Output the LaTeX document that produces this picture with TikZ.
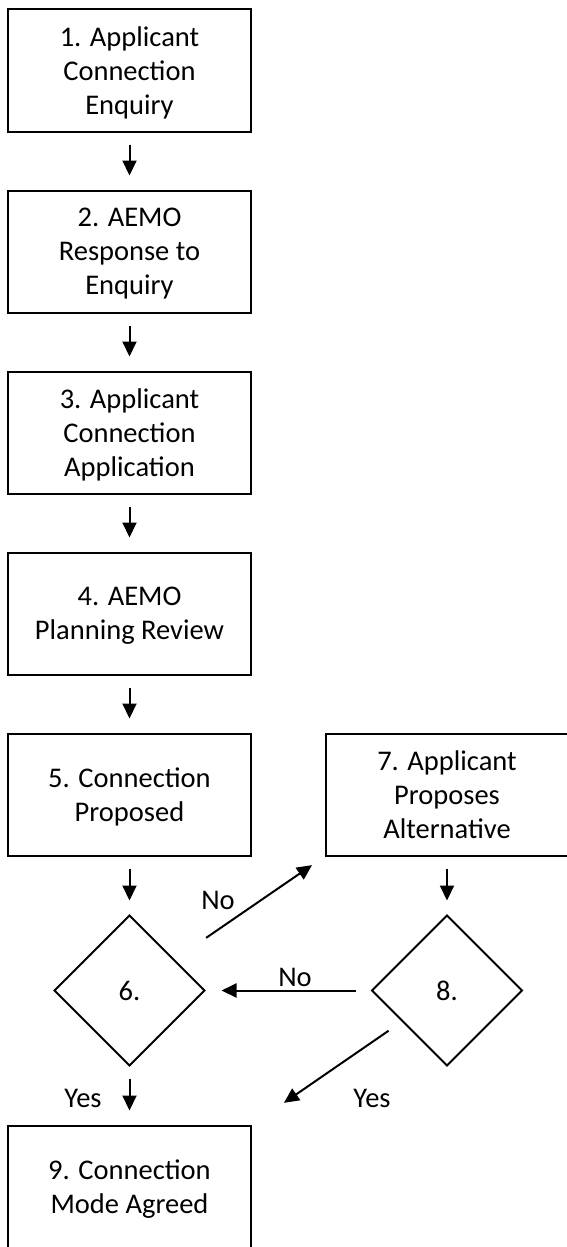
\documentclass[tikz,border=0pt]{standalone}
\usepackage{fontspec}
\setmainfont{Carlito}
\usetikzlibrary{positioning,shapes.geometric,arrows.meta}

\tikzset{
  box/.style={draw, line width=2pt, minimum width=243pt, minimum height=122pt,
    inner sep=0pt, outer sep=0pt, align=center, text depth=0pt,
    font=\fontsize{28.5}{34}\selectfont},
  decision/.style={draw, diamond, line width=1.8pt, minimum size=150pt,
    inner sep=0pt, outer sep=0pt, font=\fontsize{28.5}{34}\selectfont},
  arr/.style={-{Triangle[length=15pt,width=14pt]}, line width=2pt,
    shorten <=13pt, shorten >=15pt},
  lbl/.style={font=\fontsize{28.5}{34}\selectfont}
}

\begin{document}
\begin{tikzpicture}[x=1pt, y=-1pt, node distance=59pt]
      \useasboundingbox (0,0) rectangle (566,1247);
      % Main column of steps
      \node[box] (b1) at (129.5,70.5) {1. Applicant\\Connection\\Enquiry};
      \node[box, below=of b1] (b2) {2. AEMO\\Response to\\Enquiry};
      \node[box, below=of b2] (b3) {3. Applicant\\Connection\\Application};
      \node[box, below=of b3] (b4) {4. AEMO\\Planning Review};
      \node[box, below=of b4] (b5) {5. Connection\\Proposed};
      \node[box, minimum width=242pt, right=75pt of b5] (b7) {7. Applicant\\Proposes\\Alternative};
      % Decisions
      \node[decision, below=60pt of b5] (d6) {6.};
      \node[decision, below=60pt of b7] (d8) {8.};
      \node[box, below=60pt of d6] (b9) {9. Connection\\Mode Agreed};

      \draw[arr] (b1) -- (b2);
      \draw[arr] (b2) -- (b3);
      \draw[arr] (b3) -- (b4);
      \draw[arr] (b4) -- (b5);
      \draw[arr] (b5) -- (d6);
      \draw[arr] (b7) -- (d8);
      \draw[arr] (d6) -- (b9);
      \draw[arr, shorten <=16pt, shorten >=17pt] (d8) -- (d6);
      \draw[arr, shorten <=39pt, shorten >=17pt] (d6) -- (b7.south west);
      \draw[arr, shorten <=17pt, shorten >=40pt] (d8) -- (b9.north east);

      % Labels on the branches
      \node[lbl] (no1) at (218,900) {No};
      \node[lbl] (no2) at (295,977) {No};
      \node[lbl] (yes1) at (83,1098) {Yes};
      \node[lbl] (yes2) at (372,1098) {Yes};
    \end{tikzpicture}
\end{document}
